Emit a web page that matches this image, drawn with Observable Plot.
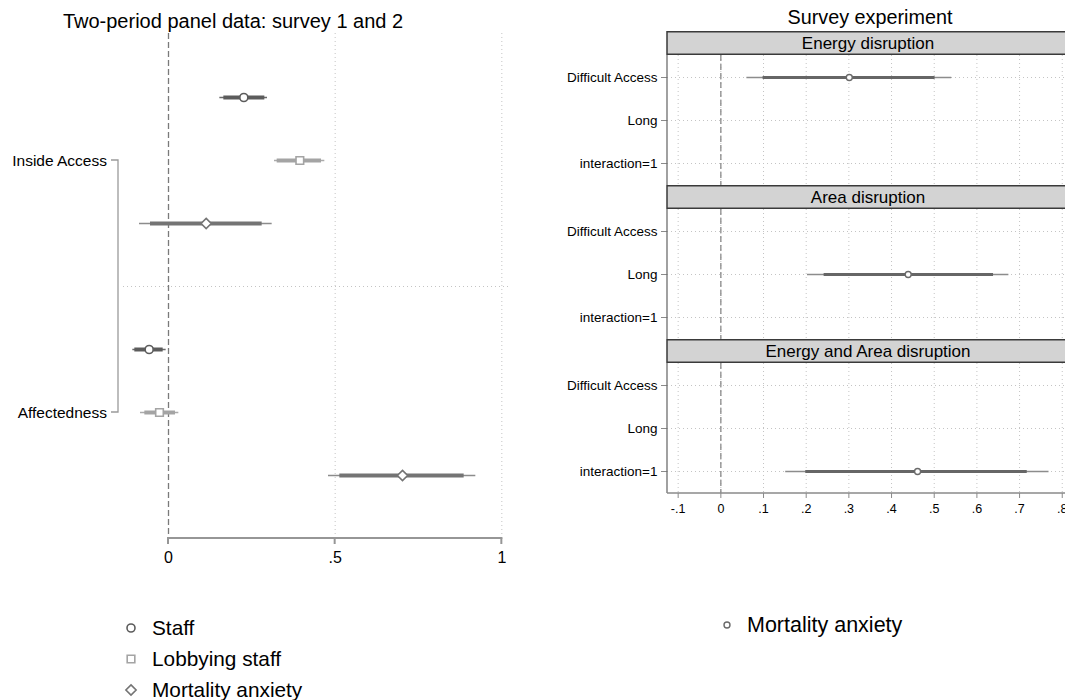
<!DOCTYPE html>
<html><head><meta charset="utf-8">
<script src="https://cdn.jsdelivr.net/npm/d3@7"></script>
<script src="https://cdn.jsdelivr.net/npm/@observablehq/plot@0.6"></script>
<style>
body{margin:0;background:#fff;font-family:"Liberation Sans",Arial,sans-serif;}
#root{position:relative;width:1065px;height:700px;overflow:hidden;background:#fff;}
.ttl{position:absolute;color:#000;white-space:nowrap;text-align:center;}
.leg{position:absolute;display:flex;align-items:center;white-space:nowrap;color:#000;}
</style></head><body><div id="root"></div>
<script>
// ---------------- data ----------------
const leftTitle = "Two-period panel data: survey 1 and 2";
const leftGroups = ["Inside Access", "Affectedness"];
const leftSeries = ["Staff", "Lobbying staff", "Mortality anxiety"];
const leftEst     = [[0.226, 0.394, 0.113], [-0.058, -0.027, 0.702]];
const leftInnerLo = [[0.166, 0.326, -0.054], [-0.101, -0.071, 0.514]];
const leftInnerHi = [[0.289, 0.459, 0.281], [-0.016, 0.021, 0.887]];
const leftOuterLo = [[0.154, 0.318, -0.087], [-0.107, -0.084, 0.480]];
const leftOuterHi = [[0.297, 0.469, 0.311], [-0.007, 0.031, 0.922]];
const leftTicks = [0, 0.5, 1];

const rightTitle = "Survey experiment";
const rightFacets = ["Energy disruption", "Area disruption", "Energy and Area disruption"];
const rightTerms = ["Difficult Access", "Long", "interaction=1"];
const rightFacetTerm = ["Difficult Access", "Long", "interaction=1"];
const rightEst     = [0.301, 0.439, 0.461];
const rightInnerLo = [0.099, 0.242, 0.199];
const rightInnerHi = [0.502, 0.639, 0.718];
const rightOuterLo = [0.061, 0.203, 0.152];
const rightOuterHi = [0.541, 0.675, 0.769];
const rightTicks = [-0.1, 0, 0.1, 0.2, 0.3, 0.4, 0.5, 0.6, 0.7, 0.8];
const rightLegend = "Mortality anxiety";

// ---------------- styles ----------------
const FONT = "Liberation Sans, Arial, Helvetica, sans-serif";
const seriesStroke = ["#5c5c5c", "#a4a4a4", "#747474"];
const seriesThin   = ["#6a6a6a", "#ababab", "#8c8c8c"];
const seriesSymbol = ["circle", "square", "diamond2"];
const seriesR      = [4, 4.3, 4.6];
const fmt = d => String(+(+d).toFixed(2)).replace("0.", ".");
const root = document.getElementById("root");
const svgns = "http://www.w3.org/2000/svg";

function place(el, left, top) {
  el.style.position = "absolute"; el.style.left = left + "px"; el.style.top = top + "px";
  el.style.maxWidth = "none"; el.style.background = "transparent";
  root.appendChild(el);
}

// ---------------- left panel ----------------
const L = {width: 530, marginLeft: 123, marginRight: 22, top: 33, bottom: 538, xDomain: [-0.135, 1.02]};
const leftRows = [];
leftGroups.forEach((g, gi) => leftSeries.forEach((s, si) => leftRows.push({
  group: g, series: s, si, key: g + "|" + s,
  est: leftEst[gi][si], lo: leftInnerLo[gi][si], hi: leftInnerHi[gi][si],
  lo2: leftOuterLo[gi][si], hi2: leftOuterHi[gi][si]
})));
const leftDomain = [
  ...leftRows.filter(d => d.group === leftGroups[0]).map(d => d.key),
  "sep",
  ...leftRows.filter(d => d.group === leftGroups[1]).map(d => d.key)
];

const leftBracket = (index, scales, values, dims) => {
  const g = d3.create("svg:g");
  const xb = dims.marginLeft - 5;
  const ys = leftGroups.map(gr => scales.y(gr + "|" + leftSeries[1]));
  g.append("path")
    .attr("d", `M${xb - 7},${ys[0]}H${xb}V${ys[1]}H${xb - 7}`)
    .attr("fill", "none").attr("stroke", "#9a9a9a").attr("stroke-width", 1.3);
  leftGroups.forEach((gr, i) => {
    g.append("text").attr("x", xb - 11).attr("y", ys[i]).attr("dy", "0.36em")
      .attr("text-anchor", "end").attr("font-size", 15.5).attr("fill", "#000").text(gr);
  });
  return g.node();
};

const leftMarks = [
  Plot.ruleX(leftTicks.filter(t => t !== 0), {stroke: "#c4c4c4", strokeDasharray: "1,3", strokeWidth: 1}),
  Plot.ruleY(["sep"], {stroke: "#c4c4c4", strokeDasharray: "1,3", strokeWidth: 1}),
  Plot.ruleX([0], {stroke: "#7a7a7a", strokeDasharray: "6,3", strokeWidth: 1.3}),
];
leftSeries.forEach((s, si) => {
  const data = leftRows.filter(d => d.si === si);
  leftMarks.push(
    Plot.ruleY(data, {y: "key", x1: "lo2", x2: "hi2", stroke: seriesThin[si], strokeWidth: 1.6}),
    Plot.ruleY(data, {y: "key", x1: "lo", x2: "hi", stroke: seriesStroke[si], strokeWidth: 4}),
    Plot.dot(data, {x: "est", y: "key", symbol: seriesSymbol[si], r: seriesR[si], stroke: seriesStroke[si], fill: "white", strokeWidth: 1.6})
  );
});
leftMarks.push(leftBracket);

const leftPlot = Plot.plot({
  width: L.width, height: L.bottom,
  marginLeft: L.marginLeft, marginRight: L.marginRight, marginTop: L.top, marginBottom: 0,
  style: {fontFamily: FONT, fontSize: "16px", color: "#000", background: "transparent", overflow: "visible"},
  x: {domain: L.xDomain, axis: null},
  y: {type: "point", domain: leftDomain, padding: 1, axis: null},
  marks: leftMarks
});
place(leftPlot, 0, 0);

// ---------------- right panel (three stacked facets) ----------------
const rightRows = rightFacets.map((f, i) => ({
  facet: f, term: rightFacetTerm[i], est: rightEst[i],
  lo: rightInnerLo[i], hi: rightInnerHi[i], lo2: rightOuterLo[i], hi2: rightOuterHi[i]
}));
const headerMark = (label) => (index, scales, values, dims) => {
  const g = d3.create("svg:g");
  const x0 = dims.marginLeft, x1 = dims.width - dims.marginRight + 6;
  g.append("rect").attr("x", x0).attr("y", 0.75).attr("width", x1 - x0).attr("height", dims.marginTop - 1.5)
    .attr("fill", "#d3d3d3").attr("stroke", "#3a3a3a").attr("stroke-width", 1.5);
  g.append("text").attr("x", (dims.marginLeft + dims.width - dims.marginRight) / 2).attr("y", dims.marginTop / 2)
    .attr("dy", "0.36em").attr("text-anchor", "middle").attr("font-size", 17).attr("fill", "#000").text(label);
  return g.node();
};
const frameLeftLine = (index, scales, values, dims) => {
  const l = document.createElementNS(svgns, "line");
  l.setAttribute("x1", dims.marginLeft); l.setAttribute("x2", dims.marginLeft);
  l.setAttribute("y1", dims.marginTop); l.setAttribute("y2", dims.height - dims.marginBottom);
  l.setAttribute("stroke", "#6e6e6e"); l.setAttribute("stroke-width", 1.3);
  return l;
};
const frameBottomLine = (index, scales, values, dims) => {
  const l = document.createElementNS(svgns, "line");
  const y = dims.height - dims.marginBottom;
  l.setAttribute("x1", dims.marginLeft); l.setAttribute("x2", dims.width);
  l.setAttribute("y1", y); l.setAttribute("y2", y);
  l.setAttribute("stroke", "#8a8a8a"); l.setAttribute("stroke-width", 1.3);
  return l;
};

const FACET_H = 154, HEADER_H = 24, AXIS_H = 34;
rightFacets.forEach((f, i) => {
  const last = i === rightFacets.length - 1;
  const data = rightRows.filter(d => d.facet === f);
  const p = Plot.plot({
    width: 510, height: FACET_H + (last ? AXIS_H : 0),
    marginLeft: 107, marginRight: 1, marginTop: HEADER_H, marginBottom: last ? AXIS_H : 0,
    style: {fontFamily: FONT, fontSize: "13px", color: "#000", background: "transparent", overflow: "visible"},
    x: {domain: [-0.125, 0.817], axis: null},
    y: {type: "point", domain: rightTerms, padding: 0.5, axis: null},
    marks: [
      Plot.gridX(rightTicks, {stroke: "#c4c4c4", strokeOpacity: 1, strokeDasharray: "1,3"}),
      Plot.gridY(rightTerms, {stroke: "#c4c4c4", strokeOpacity: 1, strokeDasharray: "1,3"}),
      Plot.ruleX([0], {stroke: "#8a8a8a", strokeDasharray: "6,3", strokeWidth: 1.3}),
      Plot.ruleY(data, {y: "term", x1: "lo2", x2: "hi2", stroke: "#8c8c8c", strokeWidth: 1.5}),
      Plot.ruleY(data, {y: "term", x1: "lo", x2: "hi", stroke: "#666666", strokeWidth: 3.2}),
      Plot.dot(data, {x: "est", y: "term", r: 3, stroke: "#6a6a6a", fill: "white", strokeWidth: 1.4}),
      Plot.axisY(rightTerms, {tickSize: 6, tickPadding: 4, stroke: "#8a8a8a", fill: "#000", fontSize: 13.5, label: null}),
      frameLeftLine,
      last ? frameBottomLine : null,
      last ? Plot.axisX(rightTicks, {tickFormat: fmt, tickSize: 5, tickPadding: 6, stroke: "#8a8a8a", fill: "#000", fontSize: 12.5, label: null}) : null,
      headerMark(f)
    ]
  });
  place(p, 560, 31 + i * FACET_H);
});

// ---------------- left x axis (strip under the left panel) ----------------
const leftAxisLine = (index, scales, values, dims) => {
  const g = d3.create("svg:g").attr("stroke", "#969696").attr("stroke-width", 2).attr("fill", "none");
  const y = dims.marginTop;
  g.append("line").attr("x1", scales.x(leftTicks[0]) - 1).attr("x2", scales.x(leftTicks[leftTicks.length - 1]) + 1)
    .attr("y1", y).attr("y2", y);
  leftTicks.forEach(t => g.append("line").attr("x1", scales.x(t)).attr("x2", scales.x(t)).attr("y1", y).attr("y2", y + 6));
  return g.node();
};
const leftAxis = Plot.plot({
  width: L.width, height: 46,
  marginLeft: L.marginLeft, marginRight: L.marginRight, marginTop: 4, marginBottom: 41,
  style: {fontFamily: FONT, fontSize: "16px", color: "#000", background: "transparent", overflow: "visible"},
  x: {domain: L.xDomain, axis: null},
  y: {domain: [0, 1], axis: null},
  marks: [
    leftAxisLine,
    Plot.text(leftTicks, {x: d => d, text: fmt, frameAnchor: "top", lineAnchor: "middle", dy: 19, fontSize: 16, fill: "#000"})
  ]
});
place(leftAxis, 0, L.bottom - 4);

// ---------------- titles ----------------
function title(text, cx, top, size) {
  const d = document.createElement("div");
  d.className = "ttl"; d.textContent = text;
  d.style.fontSize = size + "px"; d.style.lineHeight = size + "px";
  d.style.left = (cx - 300) + "px"; d.style.width = "600px"; d.style.top = top + "px";
  root.appendChild(d);
}
title(leftTitle, 233, 11, 20);
title(rightTitle, 870, 8, 19.8);

// ---------------- legends ----------------
function legendItem(label, symbol, r, stroke, sw, cx, cy, textX, size) {
  const d = document.createElement("div");
  d.className = "leg";
  d.style.left = (cx - 8) + "px"; d.style.top = (cy - 12) + "px"; d.style.height = "24px";
  const s = d3.create("svg").attr("width", 16).attr("height", 24).style("overflow", "visible");
  const sym = {circle: d3.symbolCircle, square: d3.symbolSquare, diamond2: d3.symbolDiamond2}[symbol];
  s.append("path").attr("transform", "translate(8,12)")
    .attr("d", d3.symbol(sym, Math.PI * r * r)())
    .attr("fill", "white").attr("stroke", stroke).attr("stroke-width", sw);
  d.appendChild(s.node());
  const t = document.createElement("span");
  t.textContent = label; t.style.fontSize = size + "px"; t.style.lineHeight = "24px";
  t.style.marginLeft = (textX - cx - 8) + "px";
  d.appendChild(t);
  root.appendChild(d);
}
const legendY = [628, 659, 690];
leftSeries.forEach((s, si) => legendItem(s, seriesSymbol[si], seriesR[si], seriesStroke[si], 1.6, 130.5, legendY[si], 152, 20.8));
legendItem(rightLegend, "circle", 3, "#6a6a6a", 1.4, 727, 625, 747, 21.5);
</script></body></html>
